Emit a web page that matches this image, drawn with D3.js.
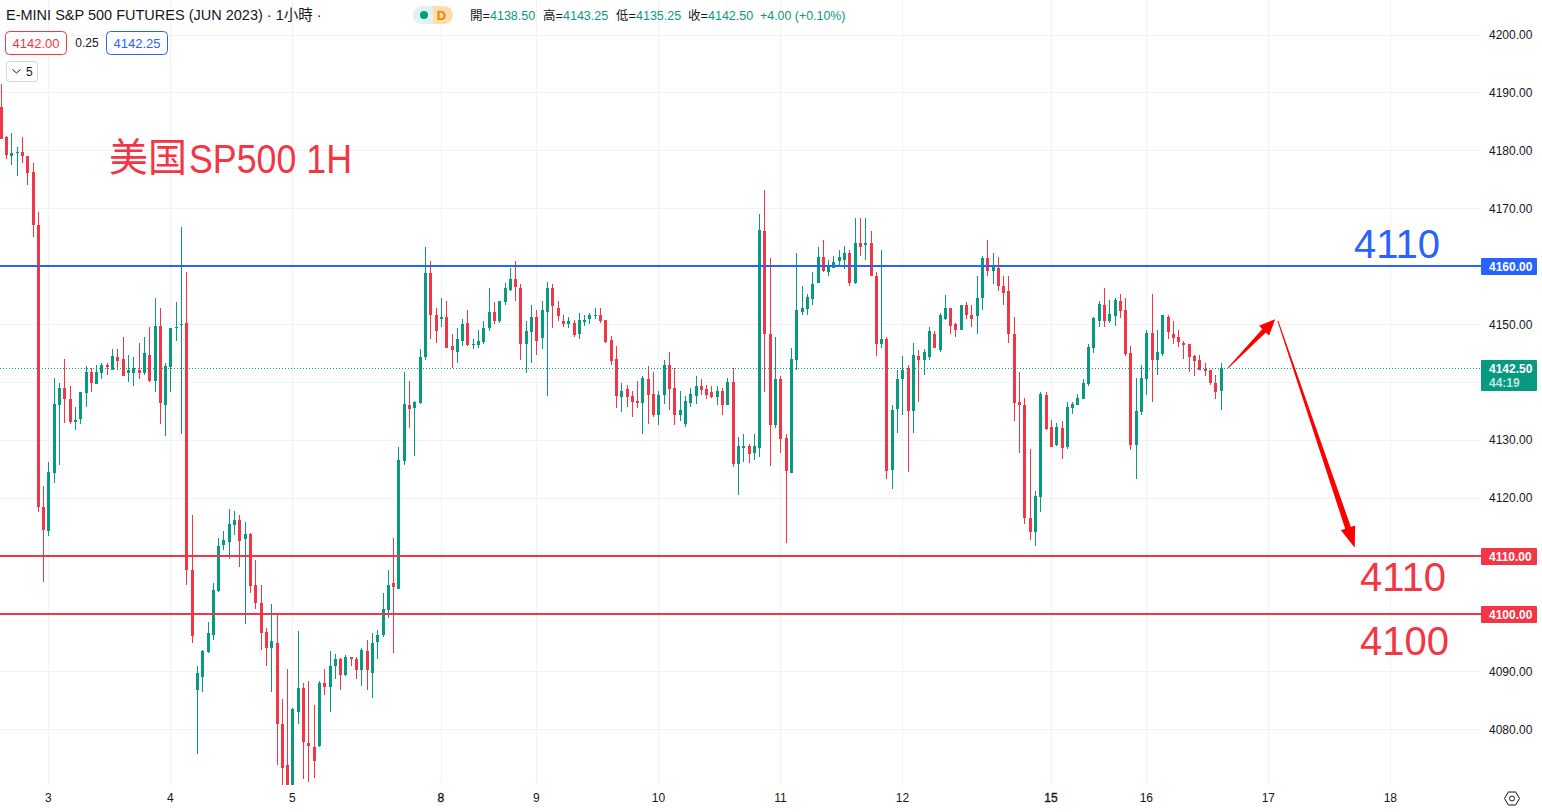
<!DOCTYPE html>
<html><head><meta charset="utf-8">
<script src="https://cdnjs.cloudflare.com/ajax/libs/d3/7.8.5/d3.min.js"></script>
<style>
html,body{margin:0;padding:0;background:#fff;overflow:hidden}
svg{display:block}
text{font-family:"Liberation Sans","Noto Sans CJK TC",sans-serif}
</style></head><body>
<svg id="c" width="1542" height="812"></svg>
<script>
const opens=[4187.6,4182.3,4179.1,4179.6,4179.7,4179.1,4176.4,4167.2,4118.4,4114.3,
4124.4,4136,4139,4137.1,4133.1,4133.6,4138.1,4141.7,4139.7,4141.6,
4142.9,4142.2,4144.3,4144,4141.6,4141.6,4142.2,4141.6,4144.7,4140.3,
4149.7,4136,4142.6,4149.4,4149.9,4150.2,4107.6,4086.9,4089.1,4093.4,
4096.4,4104,4111.9,4112.4,4115.3,4116.2,4112.9,4113.8,4105,4101.9,
4096.9,4094,4095,4081,4073.8,4068,4083.1,4087.1,4077.6,4077,
4077.2,4088.1,4087.4,4090.9,4092.1,4089.5,4092.6,4092.1,4090.2,4093.6,
4089.8,4095.2,4096.4,4100.7,4105.3,4104.3,4126.4,4136,4135.5,4136.4,
4144.3,4158.8,4151.6,4150.9,4151.2,4146.2,4145.3,4147.2,4150.2,4146.4,
4146.4,4146.9,4149.3,4152.2,4150.5,4153.8,4156,4157.9,4156.2,4146.6,
4148.6,4151.2,4147.6,4152.2,4156.2,4152.9,4150.5,4150,4150.2,4148.3,
4150.4,4150.9,4151.4,4151.6,4150.7,4147.3,4144,4137.5,4138.9,4137.6,
4136.8,4136.4,4140.6,4138,4134.4,4137.8,4143,4139,4134.4,4132.8,
4136.4,4137.6,4139.4,4138.9,4138.3,4137.5,4138.5,4136.1,4140.1,4125.9,
4128.7,4128.9,4127.8,4128.7,4166.2,4148.4,4132.6,4140.5,4130.3,4124.3,
4143.8,4152.2,4152.6,4154.3,4157.1,4161.7,4159,4159.8,4160.9,4161.2,
4162.4,4157.1,4164,4163.8,4164.1,4158.3,4146.6,4147.4,4124.8,4135.3,
4140.5,4142.4,4135,4144.5,4143.8,4144.3,4148.4,4145.5,4151,4152.8,
4150,4149.1,4153.3,4151.6,4151.4,4154.5,4161.4,4159.3,4159.7,4156.7,
4155.7,4148.4,4136.6,4136,4116.6,4114.1,4120.2,4137.8,4132.2,4129.1,
4132.1,4128.8,4135.5,4136,4137.1,4139.7,4145.9,4150.6,4153.3,4150.6,
4151.4,4154,4152.5,4145.1,4129.2,4134.9,4140.6,4148.5,4143.9,4144.9,
4151.3,4148.3,4147.8,4146.8,4146.6,4144.5,4143.9,4142.3,4142.1,4139.9,
4138.5];
const highs=[4191.5,4182.6,4183.1,4180.7,4182.4,4179.1,4177.9,4169.5,4122.1,4126.2,
4140.7,4139.8,4144,4139.3,4135.7,4138.4,4142.8,4142.4,4142.9,4143.3,
4143.3,4145.7,4145.7,4147.8,4144.7,4144.3,4146.7,4147.9,4149.5,4154.5,
4152.8,4143.3,4149.3,4153.8,4166.9,4159,4117.1,4090.9,4093.8,4098.6,
4105.3,4113.1,4114.3,4118.1,4117.8,4117.1,4115.9,4114,4109.3,4105,
4097.6,4101.6,4100,4085.2,4090.5,4083.8,4097.1,4088.1,4088.3,4084.3,
4088.3,4090.5,4093.6,4093.1,4092.4,4092.8,4092.6,4092.6,4094.1,4095.5,
4096.6,4097.2,4103.6,4107.6,4113.1,4128.8,4141.7,4140.2,4136.7,4145.7,
4163.3,4161,4152.9,4154.5,4154.1,4148.3,4149.3,4151,4152.4,4147.4,
4149,4150.5,4156.2,4153.8,4154.1,4157.2,4159.7,4161,4156.9,4150.5,
4153.3,4152.4,4154.1,4157.4,4156.9,4154.1,4151.6,4151.2,4150.7,4151.9,
4151.6,4151.9,4152.9,4152.8,4150.7,4148,4146.3,4139.9,4139.5,4138.5,
4140.2,4141.1,4142.8,4141.8,4138.5,4143.9,4145.2,4142.5,4138.5,4137.6,
4139,4141.1,4140.6,4139.5,4139.4,4139.4,4139,4140.7,4142.5,4130.6,
4131.1,4129.4,4131.1,4169,4173.3,4161.4,4147.9,4141,4131,4146,
4162.4,4156.7,4155.2,4159,4163.4,4164.5,4161.2,4161.9,4162.8,4163.6,
4162.8,4168.3,4168.3,4168.4,4166.2,4159.1,4162.9,4147.8,4136,4142.1,
4144.5,4142.9,4146.7,4145.5,4145.7,4149.5,4148.8,4151.9,4155,4152.9,
4150.2,4153.3,4153.8,4153.3,4158.4,4161.9,4164.5,4162.4,4161.7,4158.4,
4158.3,4151.2,4141.7,4137.2,4128.4,4121.2,4138.4,4138.3,4133.4,4132.9,
4133.3,4136.6,4136.6,4137.9,4140.6,4146.6,4151.3,4154,4156.3,4154.2,
4154.5,4155.2,4154.5,4146.3,4140.7,4143,4149,4155.2,4149,4151.6,
4151.6,4150.6,4149,4147.1,4146.6,4144.7,4144.7,4143.3,4142.1,4141.3,
4143.25];
const lows=[4182,4178.5,4177.5,4175.7,4177.8,4174.1,4165.1,4117.6,4105.5,4113.5,
4122.6,4125.7,4132.9,4132.8,4131.7,4132.8,4135.7,4138.4,4139.7,4140.5,
4141.2,4142.1,4142.2,4141,4140,4139.3,4140.5,4141.2,4140,4138.4,
4132.8,4130.7,4138.3,4147.1,4131,4105,4095,4075.7,4086.4,4093.3,
4095.5,4103.8,4111,4109.5,4113.6,4108.1,4098.3,4103.6,4100.9,4093.8,
4091,4086.4,4073.8,4069,4068,4066,4080.9,4071.4,4071,4071.6,
4076.9,4085.9,4083.1,4088.8,4086.9,4089.3,4091,4088.8,4087.6,4086.9,
4085.5,4092.1,4096,4099.3,4093.3,4104.3,4125.7,4132.1,4127.2,4136.2,
4143.8,4147.4,4146.7,4149.5,4146,4142.4,4143.3,4146.2,4146.2,4145.7,
4146,4146.6,4148.8,4150,4150.3,4153.4,4155.7,4154.1,4143.8,4141.6,
4143.3,4144.7,4145.7,4137.6,4149.3,4150.5,4149.5,4149.3,4147.9,4147.4,
4149.7,4150,4151,4150.2,4146.8,4143,4135.6,4134.9,4135.7,4134,
4135.6,4131.1,4132.8,4134,4132.6,4136.3,4135.2,4132.6,4133.3,4132.3,
4135.7,4136.3,4137.8,4137.1,4137.3,4136.1,4134.4,4136.1,4125.4,4120.6,
4126.3,4126.1,4126.6,4127.1,4138.4,4125.5,4132.1,4127.8,4112.2,4124.3,
4142.1,4151.7,4151.6,4153.4,4157.1,4159,4158.4,4159.7,4160.2,4159.5,
4156.7,4156.9,4161.9,4161.2,4158.3,4144.5,4146,4123.3,4121.6,4131.2,
4134.3,4124.5,4131.2,4136.6,4141.2,4143.8,4145.9,4145.2,4150.7,4148.3,
4147.9,4149,4151,4149.5,4148.4,4152.4,4158.3,4156.9,4155.7,4153.4,
4146.7,4133.3,4127.8,4115.5,4112.8,4111.7,4117.6,4131.7,4128.8,4128.9,
4126.7,4128.4,4134.5,4136,4137.1,4139.4,4145.1,4149.5,4149.5,4150.2,
4149.7,4151.1,4144.5,4128.3,4123.2,4134.4,4137.8,4136.6,4141.3,4144.5,
4147.5,4146.6,4146.1,4144,4141.8,4141.1,4142.1,4141.1,4139.5,4137.1,
4135.25];
const closes=[4182,4179.3,4179.6,4179.7,4179.1,4176.1,4167.1,4118.4,4114.5,4124.5,
4136.2,4139,4137.1,4133.1,4133.4,4138.3,4141.7,4139.8,4141.7,4142.9,
4142.6,4144.5,4143.6,4141,4142.1,4142.4,4141.6,4145,4140.3,4149.7,
4136.4,4142.8,4149.3,4149.5,4150,4107.5,4096.2,4089.7,4093.6,4096.6,
4104.1,4111.7,4112.8,4115.5,4116.2,4112.6,4113.8,4104.8,4101.9,4096.7,
4094.1,4095.3,4080.9,4073.4,4069,4083.6,4087.1,4077.8,4077.2,4074.5,
4088.1,4087.4,4091,4092.1,4089.5,4092.6,4092.2,4090.2,4093.8,4090.2,
4095,4096.4,4100.9,4105,4104.7,4126.6,4136.2,4135.3,4136.6,4144.3,
4158.8,4151.6,4148.8,4151.2,4146,4145.5,4147.4,4150,4146.4,4146.6,
4147.1,4149.3,4152.2,4150.5,4154.1,4156.2,4157.9,4156.4,4146.6,4148.8,
4151.2,4147.2,4152.4,4156.2,4153.1,4151.4,4150,4150.5,4148.1,4150.7,
4150.7,4151.6,4151.6,4150.6,4147,4143.7,4137.6,4138.5,4137.5,4136.6,
4136.4,4140.7,4137.8,4134.4,4137.8,4143,4138.9,4134.4,4135.2,4136.8,
4138,4139.4,4138.7,4137.8,4137.5,4138.5,4136.1,4140.1,4125.9,4128.9,
4129,4127.6,4129,4166.3,4148.3,4132.6,4140.5,4130.2,4124.7,4144,
4152.4,4152.8,4154.7,4156.9,4161.7,4159.3,4160.2,4160.7,4161.7,4162.4,
4157.2,4164,4163.4,4164.1,4158.3,4146.6,4147.4,4124.7,4135.2,4140.5,
4142.1,4135,4144.7,4143.8,4145.2,4148.8,4145.9,4151.6,4152.9,4149.8,
4149.1,4153.3,4151.6,4151,4154.5,4161.4,4159.3,4160,4156.6,4155.5,
4148.3,4136.4,4136,4116.6,4114.1,4120.3,4137.9,4131.9,4128.8,4132.2,
4128.6,4135.7,4136.2,4137.2,4139.9,4146.1,4151.1,4153.5,4150.6,4151.8,
4154.2,4152.3,4144.9,4129.2,4135.1,4140.7,4148.5,4143.9,4145.2,4151.6,
4148.7,4147.6,4147,4146.4,4144.4,4143.7,4142.1,4142,4139.9,4138.3,
4142.5];

const priceTicks=[4200,4190,4180,4170,4160,4150,4140,4130,4120,4110,4100,4090,4080];
const dayTickIndex=[9,32,55,83,101,124,147,170,198,216,239,262];
const dayTickLabels=["3","4","5","8","9","10","11","12","15","16","17","18"];
const boldDays=["8","15"];
const levels=[{p:4160,c:"#2962ff"},{p:4110,c:"#f23645"},{p:4100,c:"#f23645"}];
const lastPrice=4142.5;
const annotations=[{t:"4110",i:255.05,p:4161.5,c:"#2962ff"},{t:"4110",i:256.2,p:4103.9,c:"#f23645"},{t:"4100",i:256.2,p:4092.9,c:"#f23645"}];
const arrows=[{a:[231.3,4142.46],b:[240.2,4150.9],hl:16,hw:14,sw:5},{a:[240.7,4150.6],b:[255.2,4111.4],hl:21,hw:15,sw:6}];

const UP="#089981",DOWN="#f23645",GRID="#f1f2f4",TXT="#131722";
const svg=d3.select("#c");
const x=d3.scaleLinear().domain([0,1]).range([1.2,6.504]);
const y=d3.scaleLinear().domain([4200,4080]).range([35,729.5]);
const snap=p=>Math.round(y(p)-.25);
const plotW=1481,plotH=785;

svg.append("rect").attr("width",1542).attr("height",812).attr("fill","#fff");
svg.append("defs").append("clipPath").attr("id","plot").append("rect").attr("width",plotW).attr("height",plotH);

// grid
const grid=svg.append("g").attr("shape-rendering","crispEdges");
grid.selectAll("line.h").data(priceTicks).join("line").attr("class","h")
 .attr("x1",0).attr("x2",plotW).attr("y1",d=>Math.floor(y(d))+.5).attr("y2",d=>Math.floor(y(d))+.5).attr("stroke",GRID);
grid.selectAll("line.v").data(dayTickIndex).join("line").attr("class","v")
 .attr("y1",0).attr("y2",plotH).attr("x1",d=>Math.floor(x(d))+.5).attr("x2",d=>Math.floor(x(d))+.5).attr("stroke",GRID);

// candles
const idx=d3.range(opens.length);
const plot=svg.append("g").attr("clip-path","url(#plot)");
const col=i=>closes[i]>=opens[i]?UP:DOWN;
const cand=plot.append("g").attr("shape-rendering","crispEdges");
cand.selectAll("rect.w").data(idx).join("rect").attr("class","w")
 .attr("x",i=>Math.floor(x(i))).attr("width",1)
 .attr("y",i=>Math.round(y(highs[i]))).attr("height",i=>Math.max(1,Math.round(y(lows[i]))-Math.round(y(highs[i]))))
 .attr("fill",col);
cand.selectAll("rect.b").data(idx).join("rect").attr("class","b")
 .attr("x",i=>Math.floor(x(i))-1).attr("width",3)
 .attr("y",i=>Math.round(y(Math.max(opens[i],closes[i]))))
 .attr("height",i=>Math.max(1,Math.round(y(Math.min(opens[i],closes[i])))-Math.round(y(Math.max(opens[i],closes[i])))))
 .attr("fill",col);

// level lines
svg.append("g").attr("shape-rendering","crispEdges").selectAll("line").data(levels).join("line")
 .attr("x1",0).attr("x2",plotW).attr("y1",d=>snap(d.p)).attr("y2",d=>snap(d.p)).attr("stroke",d=>d.c).attr("stroke-width",2);
svg.append("line").attr("x1",0).attr("x2",plotW).attr("y1",Math.round(y(lastPrice))+.5).attr("y2",Math.round(y(lastPrice))+.5)
 .attr("stroke",UP).attr("stroke-width",1).attr("stroke-dasharray","1 2");

// arrows
svg.append("g").selectAll("polygon").data(arrows).join("polygon").attr("fill","#ff0000")
 .attr("points",d=>{
  const a=[x(d.a[0]),y(d.a[1])],b=[x(d.b[0]),y(d.b[1])];
  const L=Math.hypot(b[0]-a[0],b[1]-a[1]),u=[(b[0]-a[0])/L,(b[1]-a[1])/L],n=[-u[1],u[0]];
  const c=[b[0]-u[0]*d.hl,b[1]-u[1]*d.hl];
  const P=(s)=>[c[0]+n[0]*s,c[1]+n[1]*s].join(",");
  const T=(s)=>[a[0]+n[0]*s,a[1]+n[1]*s].join(",");
  return [T(.5),P(d.sw/2),P(d.hw/2),b.join(","),P(-d.hw/2),P(-d.sw/2),T(-.5)].join(" ");
 });

// big text notes
svg.append("text").attr("x",109).attr("y",171).attr("font-size",39).attr("fill",DOWN)
 .attr("style",'font-family:"Noto Sans CJK SC",sans-serif').text("美国");
svg.append("text").attr("x",189).attr("y",173).attr("font-size",40).attr("fill",DOWN)
 .attr("textLength",163).attr("lengthAdjust","spacingAndGlyphs").text("SP500 1H");
svg.append("g").selectAll("text").data(annotations).join("text")
 .attr("x",d=>x(d.i)).attr("y",d=>y(d.p)).attr("font-size",40).attr("fill",d=>d.c).text(d=>d.t);

// price axis
const yAxis=d3.axisRight(y).tickValues(priceTicks).tickSize(0).tickPadding(0).tickFormat(d3.format(".2f"));
const gy=svg.append("g").attr("transform","translate(1489,0)").call(yAxis);
gy.select(".domain").remove();
gy.selectAll("text").attr("font-size",12).attr("fill",TXT).attr("style",'font-family:"Liberation Sans",sans-serif');

// time axis
const xAxis=d3.axisBottom(x).tickValues(dayTickIndex).tickSize(0).tickPadding(0).offset(0)
 .tickFormat((d,i)=>dayTickLabels[i]);
const gx=svg.append("g").attr("transform","translate(-0.5,793)").call(xAxis);
gx.select(".domain").remove();
gx.selectAll("text").attr("font-size",12).attr("fill",TXT)
 .attr("style",'font-family:"Liberation Sans",sans-serif')
 .attr("stroke",(d,i)=>boldDays.includes(dayTickLabels[i])?TXT:"none")
 .attr("stroke-width",.35);

// price tags
const tags=levels.map(l=>({p:l.p,c:l.c,h:17,t:d3.format(".2f")(l.p)}));
const tagG=svg.append("g");
tagG.selectAll("rect").data(tags).join("rect").attr("x",1481).attr("width",56).attr("height",d=>d.h).attr("rx",1)
 .attr("y",d=>snap(d.p)-8).attr("fill",d=>d.c);
tagG.selectAll("text").data(tags).join("text").attr("x",1489).attr("y",d=>snap(d.p)+4.5)
 .attr("font-size",12).attr("font-weight",700).attr("fill","#fff").text(d=>d.t);
const ly=Math.round(y(lastPrice));
svg.append("rect").attr("x",1481).attr("y",ly-8).attr("width",56).attr("height",31).attr("rx",1).attr("fill",UP);
svg.append("text").attr("x",1489).attr("y",ly+4.5).attr("font-size",12).attr("font-weight",700).attr("fill","#fff").text(d3.format(".2f")(lastPrice));
svg.append("text").attr("x",1489).attr("y",ly+19).attr("font-size",12).attr("font-weight",700).attr("fill","#fff").attr("fill-opacity",.75).text("44:19");

// settings icon
svg.append("path").attr("d",d3.range(6).map(k=>{const a=k*Math.PI/3;return (k?"L":"M")+(1512+7.5*Math.cos(a))+","+(798.5+7.5*Math.sin(a));}).join("")+"Z")
 .attr("fill","none").attr("stroke",TXT).attr("stroke-width",1);
svg.append("circle").attr("cx",1512).attr("cy",798.5).attr("r",2.5).attr("fill","none").attr("stroke",TXT);

// legend: title
svg.append("text").attr("x",6).attr("y",20).attr("font-size",14.5).attr("fill",TXT).text("E-MINI S&P 500 FUTURES (JUN 2023) · 1小時 ·");
svg.append("rect").attr("x",5.5).attr("y",31.5).attr("width",61).attr("height",23).attr("rx",4).attr("fill","#fff").attr("stroke",DOWN);
svg.append("text").attr("x",36).attr("y",48).attr("text-anchor","middle").attr("font-size",13).attr("fill",DOWN).text("4142.00");
svg.append("text").attr("x",87).attr("y",47).attr("text-anchor","middle").attr("font-size",12).attr("fill",TXT).text("0.25");
svg.append("rect").attr("x",106.5).attr("y",31.5).attr("width",61).attr("height",23).attr("rx",4).attr("fill","#fff").attr("stroke","#2962ff");
svg.append("text").attr("x",137).attr("y",48).attr("text-anchor","middle").attr("font-size",13).attr("fill","#2962ff").text("4142.25");
svg.append("rect").attr("x",6.5).attr("y",61.5).attr("width",31).attr("height",20).attr("rx",3).attr("fill","#fff").attr("stroke","#d1d4dc");
svg.append("path").attr("d","M12.5,69.5l4,3.5l4,-3.5").attr("fill","none").attr("stroke",TXT);
svg.append("text").attr("x",26).attr("y",76).attr("font-size",12).attr("fill",TXT).text("5");

// status pill
svg.append("path").attr("d","M433,6H422a9,9 0 0 0 0,18H433Z").attr("fill","#dff2ef");
svg.append("path").attr("d","M433,6H444a9,9 0 0 1 0,18H433Z").attr("fill","#ffdcaa");
svg.append("circle").attr("cx",424).attr("cy",15).attr("r",4).attr("fill",UP);
svg.append("text").attr("x",441.5).attr("y",20).attr("text-anchor","middle").attr("font-size",13).attr("font-weight",700).attr("fill","#f57c00").text("D");

// OHLC readout
const ohlcLabels=["開=","高=","低=","收="];
const ohlcVals=["4138.50","4143.25","4135.25","4142.50"];
const ohlcX=[470,543,616,688];
ohlcLabels.forEach((t,i)=>{
 svg.append("text").attr("x",ohlcX[i]).attr("y",20).attr("font-size",12.5).attr("fill",TXT).text(t);
 svg.append("text").attr("x",ohlcX[i]+20).attr("y",20).attr("font-size",12.5).attr("fill",UP).text(ohlcVals[i]);
});
svg.append("text").attr("x",760).attr("y",20).attr("font-size",12.4).attr("fill",UP).text("+4.00 (+0.10%)");
</script>
</body></html>
